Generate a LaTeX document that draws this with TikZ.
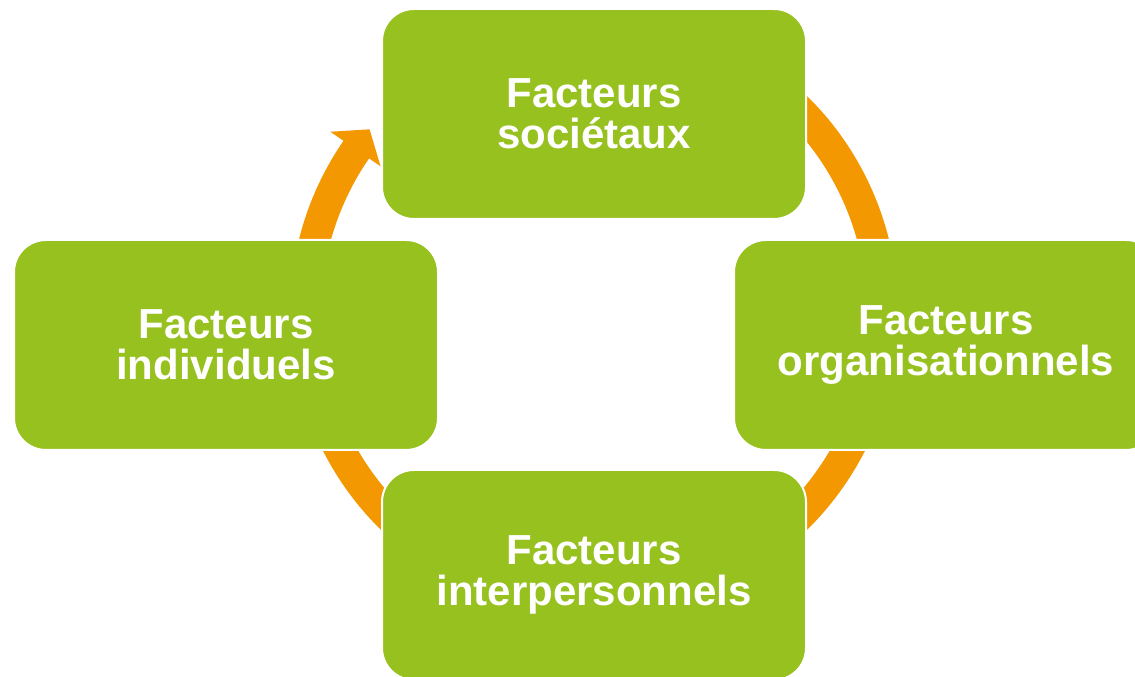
\documentclass[tikz,border=0pt]{standalone}
\usepackage{fontspec}
\setmainfont{Liberation Sans}
\usetikzlibrary{calc}
\definecolor{leaf}{RGB}{150,193,31}
\definecolor{amber}{RGB}{243,152,0}
\begin{document}
\begin{tikzpicture}[x=0.75pt,y=0.75pt,
  factor/.style={rectangle, rounded corners=24pt, fill=leaf, draw=white,
    line width=1.5pt, minimum width=318pt, minimum height=157.5pt,
    text=white, align=center, inner sep=0pt,
    font=\fontsize{31.5pt}{30.75pt}\selectfont\bfseries},
  ring/.style={draw=amber, line width=23.25pt}]
\useasboundingbox (0,0) rectangle (1135,677);
\clip (0,0) rectangle (1135,677);
% centre of the cycle
\coordinate (hub) at (594,364);
% orange ring running behind the four boxes, with its arrow head
\draw[ring] ($(hub)+(145.3:288.5)$) arc[start angle=145.3, end angle=480, radius=288.5];
\fill[amber] ($(hub)+(145.5:320)$) -- ($(hub)+(140.7:290)$) -- ($(hub)+(145.5:259)$) -- cycle;
% the four groups of factors
\node[factor] (soc) at (594,563) {Facteurs\\sociétaux};
\node[factor] (org) at (946,332) {Facteurs\\organisationnels};
\node[factor] (inter) at (594,102) {Facteurs\\interpersonnels};
\node[factor] (indiv) at (226,332) {Facteurs\\individuels};
\end{tikzpicture}
\end{document}
